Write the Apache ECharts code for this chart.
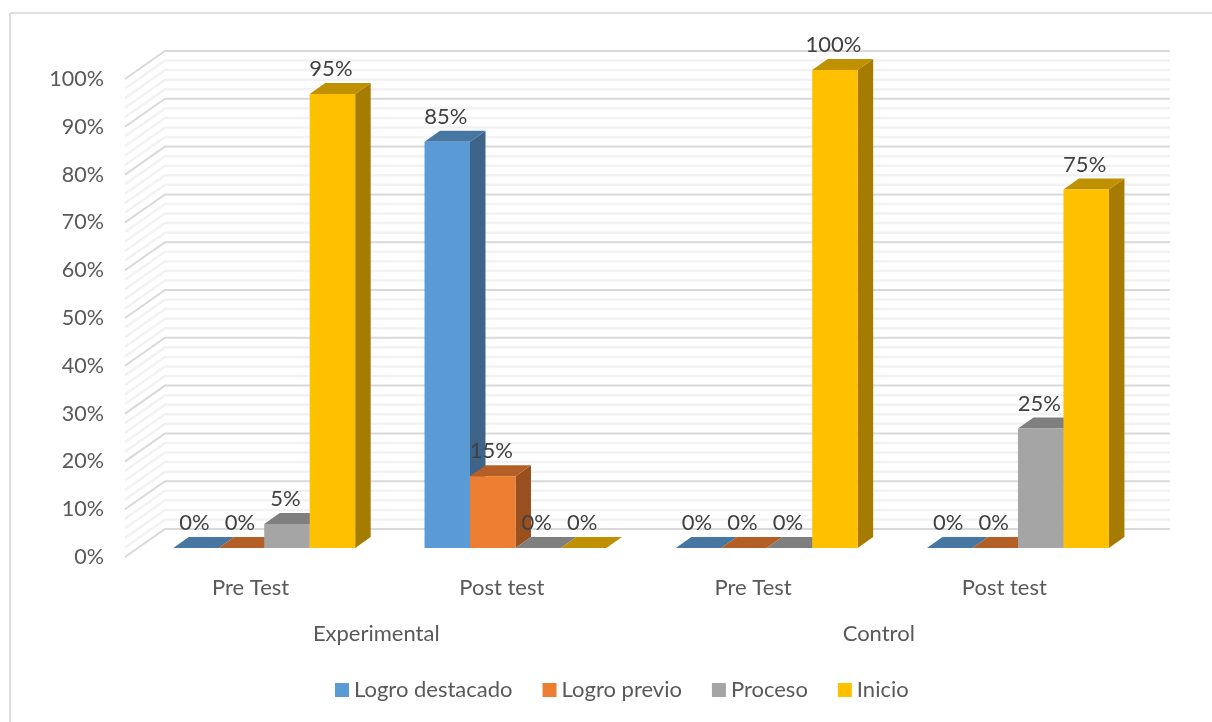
<!DOCTYPE html>
<html>
<head>
<meta charset="utf-8">
<style>html,body{margin:0;padding:0;background:#fff}#c{width:1212px;height:722px}</style>
<script src="https://cdn.jsdelivr.net/npm/echarts@6/dist/echarts.min.js"></script>
</head>
<body>
<div id="c"></div>
<script>
var categories = ['Pre Test', 'Post test', 'Pre Test', 'Post test'];
var groups = ['Experimental', 'Control'];
var seriesNames = ['Logro destacado', 'Logro previo', 'Proceso', 'Inicio'];
var logroDestacado = [0, 85, 0, 0];
var logroPrevio = [0, 15, 0, 0];
var proceso = [5, 0, 0, 25];
var inicio = [95, 0, 100, 75];
var majorTicks = [0, 10, 20, 30, 40, 50, 60, 70, 80, 90, 100];
var minorTicks = [2, 4, 6, 8, 12, 14, 16, 18, 22, 24, 26, 28, 32, 34, 36, 38, 42, 44, 46, 48, 52, 54, 56, 58, 62, 64, 66, 68, 72, 74, 76, 78, 82, 84, 86, 88, 92, 94, 96, 98];

var FONT = 'Lato, Carlito, sans-serif';
var WALL_DX = 40, WALL_DY = -28;
var BAR_DX = 13.6, BAR_DY = -9, DEPTH_DX = 15.5, DEPTH_DY = -11;
var BAR_FRAC = 0.181;

var front = ['#5b9bd5', '#ed7d31', '#a5a5a5', '#ffc000'];
var topFace = ['#4677a3', '#b45f25', '#7f7f7f', '#bf9000'];
var sideFace = ['#3e6589', '#9a4f1e', '#6e6e6e', '#a67c00'];

function wallSeries(name, ticks, color, width, z2) {
  return {
    name: name, type: 'custom', silent: true, clip: false, z: 1,
    data: ticks.map(function (v) { return [0, v]; }),
    encode: { x: 0, y: 1 },
    renderItem: function (params, api) {
      var cs = params.coordSys;
      var y = api.coord([0, api.value(1)])[1];
      return {
        type: 'polyline', z2: z2,
        shape: { points: [[cs.x, y], [cs.x + WALL_DX, y + WALL_DY], [cs.x + cs.width + WALL_DX, y + WALL_DY]] },
        style: { stroke: color, lineWidth: width, fill: null }
      };
    }
  };
}

function barSeries(idx, values) {
  return {
    name: seriesNames[idx], type: 'custom', clip: false, z: 3,
    itemStyle: { color: front[idx] },
    data: values.map(function (v, i) { return [i, v]; }),
    encode: { x: 0, y: 1 },
    renderItem: function (params, api) {
      var cat = api.value(0), val = api.value(1);
      var bw = api.size([1, 0])[0] * BAR_FRAC;
      var x0 = api.coord([cat, 0])[0] + BAR_DX - 2 * bw + idx * bw;
      var x1 = x0 + bw;
      var yb = api.coord([cat, 0])[1] + BAR_DY;
      var yt = api.coord([cat, val])[1] + BAR_DY;
      var dx = DEPTH_DX, dy = DEPTH_DY;
      var kids = [
        { type: 'polygon', shape: { points: [[x1, yb], [x1 + dx, yb + dy], [x1 + dx, yt + dy], [x1, yt]] }, style: { fill: sideFace[idx] } },
        { type: 'polygon', shape: { points: [[x0, yt], [x0 + dx, yt + dy], [x1 + dx, yt + dy], [x1, yt]] }, style: { fill: topFace[idx] } },
        { type: 'rect', shape: { x: x0, y: yt, width: bw, height: yb - yt }, style: { fill: front[idx] } },
        { type: 'text', z2: 100, style: { text: val + '%', x: (x0 + x1) / 2 - 1.5, y: yt - 25, align: 'center', verticalAlign: 'middle', fill: '#404040', font: '22px ' + FONT } }
      ];
      return { type: 'group', children: kids };
    }
  };
}

var chart = echarts.init(document.getElementById('c'), null, { renderer: 'canvas' });
chart.setOption({
  animation: false,
  backgroundColor: '#ffffff',
  textStyle: { fontFamily: FONT },
  grid: { left: 125, top: 79, width: 1005, height: 478, containLabel: false },
  legend: {
    data: seriesNames, left: 330, top: 674, itemWidth: 14, itemHeight: 14, itemGap: 30, icon: 'rect',
    textStyle: { color: '#595959', fontSize: 22, fontFamily: FONT, padding: [0, 0, 0, 0] }
  },
  xAxis: [
    { type: 'category', data: categories, position: 'bottom',
      axisLine: { show: false }, axisTick: { show: false }, splitLine: { show: false },
      axisLabel: { color: '#595959', fontSize: 22, fontFamily: FONT, margin: 20 } },
    { type: 'category', data: groups, position: 'bottom', offset: 46,
      axisLine: { show: false }, axisTick: { show: false }, splitLine: { show: false },
      axisLabel: { color: '#595959', fontSize: 22, fontFamily: FONT, margin: 20 } }
  ],
  yAxis: { type: 'value', min: 0, max: 100, interval: 10,
    axisLine: { show: false }, axisTick: { show: false }, splitLine: { show: false },
    axisLabel: { formatter: '{value}%', color: '#595959', fontSize: 21.5, fontFamily: FONT, margin: 21, padding: [6, 0, 0, 0] } },
  graphic: [
    { type: 'line', z: 0, shape: { x1: 10, y1: 13, x2: 1212, y2: 13 }, style: { stroke: '#dedede', lineWidth: 2 } },
    { type: 'line', z: 0, shape: { x1: 10, y1: 13, x2: 10, y2: 722 }, style: { stroke: '#dedede', lineWidth: 2 } }
  ],
  series: [
    wallSeries('minor', minorTicks, '#f2f2f2', 2.5, 1),
    wallSeries('major', majorTicks, '#d9d9d9', 2, 2),
    barSeries(0, logroDestacado),
    barSeries(1, logroPrevio),
    barSeries(2, proceso),
    barSeries(3, inicio)
  ]
});
</script>
</body>
</html>
